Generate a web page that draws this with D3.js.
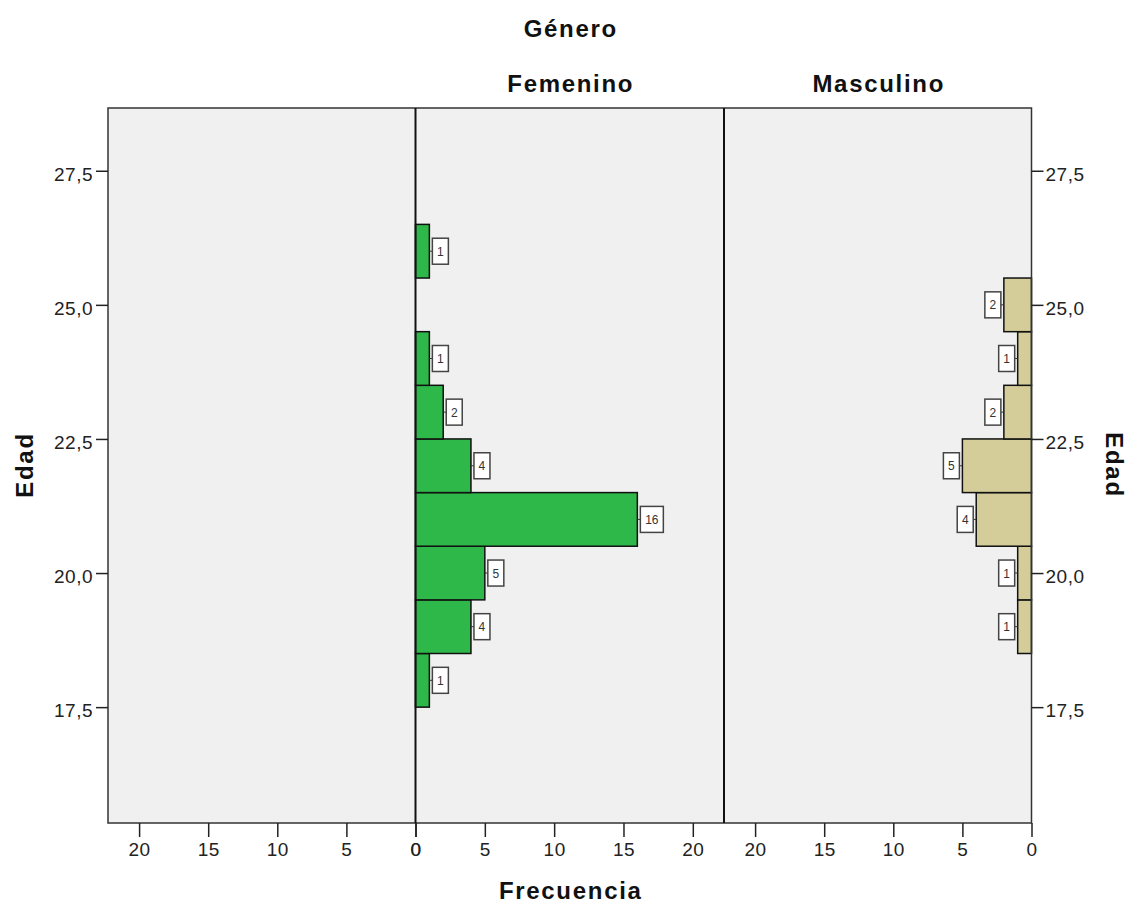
<!DOCTYPE html>
<html>
<head>
<meta charset="utf-8">
<script src="https://cdn.jsdelivr.net/npm/d3@7"></script>
<style>
  body { margin: 0; background: #fff; }
  svg { font-family: "Liberation Sans", Arial, sans-serif; }
</style>
</head>
<body>
<svg width="1132" height="906"></svg>
<script>
// ---- data ----
const groups = ["Femenino", "Masculino"];
const ageBins = [18, 19, 20, 21, 22, 23, 24, 25, 26];
const femenino = [1, 4, 5, 16, 4, 2, 1, 0, 1];
const masculino = [0, 1, 1, 4, 5, 2, 1, 2, 0];
const freqTicks = [0, 5, 10, 15, 20];
const ageTicks = [17.5, 20.0, 22.5, 25.0, 27.5];

const svg = d3.select("svg");

const plotTop = 108, plotBottom = 823;
const edges = [108, 415.5, 724, 1031.5];
const maxF = 22.25;

const y = d3.scaleLinear().domain([15.34, 28.67]).range([plotBottom, plotTop]);

// one x scale per panel
const xLeft = d3.scaleLinear().domain([maxF, 0]).range([edges[0], edges[1]]);
const xMid = d3.scaleLinear().domain([0, maxF]).range([edges[1], edges[2]]);
const xRight = d3.scaleLinear().domain([maxF, 0]).range([edges[2], edges[3]]);

// background
svg.append("rect")
  .attr("x", edges[0]).attr("y", plotTop)
  .attr("width", edges[3] - edges[0]).attr("height", plotBottom - plotTop)
  .attr("fill", "#f0f0f0");

/* -----------------------------
   Bars
----------------------------- */
const binH = y(0) - y(1);

const femData = ageBins.map((a, i) => ({ age: a, n: femenino[i] })).filter(d => d.n > 0);
const masData = ageBins.map((a, i) => ({ age: a, n: masculino[i] })).filter(d => d.n > 0);

svg.selectAll(".fem")
  .data(femData)
  .enter()
  .append("rect")
  .attr("x", xMid(0))
  .attr("y", d => y(d.age + 0.5))
  .attr("width", d => xMid(d.n) - xMid(0))
  .attr("height", binH)
  .attr("fill", "#2fb84a")
  .attr("stroke", "#111")
  .attr("stroke-width", 1.5);

svg.selectAll(".mas")
  .data(masData)
  .enter()
  .append("rect")
  .attr("x", d => xRight(d.n))
  .attr("y", d => y(d.age + 0.5))
  .attr("width", d => xRight(0) - xRight(d.n))
  .attr("height", binH)
  .attr("fill", "#d4cd9a")
  .attr("stroke", "#111")
  .attr("stroke-width", 1.5);

/* -----------------------------
   Value labels
----------------------------- */
function addLabels(data, xs, side) {
  data.forEach(d => {
    const txt = String(d.n);
    const w = txt.length > 1 ? 23 : 16;
    const h = 26;
    const xe = xs(d.n);
    const cy = y(d.age);
    const bx = side > 0 ? xe + 3 : xe - 3 - w;
    svg.append("line")
      .attr("x1", xe).attr("x2", side > 0 ? bx : bx + w)
      .attr("y1", cy).attr("y2", cy)
      .attr("stroke", "#333").attr("stroke-width", 1);
    svg.append("rect")
      .attr("x", bx).attr("y", cy - h / 2)
      .attr("width", w).attr("height", h)
      .attr("fill", "#fff")
      .attr("stroke", "#444")
      .attr("stroke-width", 1.5);
    svg.append("text")
      .attr("x", bx + w / 2).attr("y", cy + 4.5)
      .attr("text-anchor", "middle")
      .attr("font-size", 12)
      .attr("fill", "#333")
      .text(txt);
  });
}
addLabels(femData, xMid, 1);
addLabels(masData, xRight, -1);

/* -----------------------------
   Frame and dividers
----------------------------- */
svg.append("rect")
  .attr("x", edges[0]).attr("y", plotTop)
  .attr("width", edges[3] - edges[0]).attr("height", plotBottom - plotTop)
  .attr("fill", "none")
  .attr("stroke", "#333")
  .attr("stroke-width", 1.5);

[edges[1], edges[2]].forEach(xv => {
  svg.append("line")
    .attr("x1", xv).attr("x2", xv)
    .attr("y1", plotTop).attr("y2", plotBottom)
    .attr("stroke", "#111")
    .attr("stroke-width", 2);
});

/* -----------------------------
   Axes
----------------------------- */
function styleAxis(g) {
  g.select(".domain").remove();
  g.selectAll(".tick line").attr("stroke", "#222").attr("stroke-width", 1.5);
  g.selectAll(".tick text").attr("font-size", 19).attr("fill", "#222")
    .attr("letter-spacing", 0.5)
    .attr("font-family", "'Liberation Sans', Arial, sans-serif");
}

const fmt = d3.format(".1f");
const comma = d => fmt(d).replace(".", ",");

svg.append("g")
  .attr("transform", `translate(${edges[0]},0)`)
  .call(d3.axisLeft(y).tickValues(ageTicks).tickFormat(comma).tickSize(12).tickPadding(3))
  .call(styleAxis)
  .call(g => g.selectAll(".tick text").attr("dy", "0.5em"));

svg.append("g")
  .attr("transform", `translate(${edges[3]},0)`)
  .call(d3.axisRight(y).tickValues(ageTicks).tickFormat(comma).tickSize(12).tickPadding(2))
  .call(styleAxis)
  .call(g => g.selectAll(".tick text").attr("dy", "0.5em"));

[xLeft, xMid, xRight].forEach(xs => {
  svg.append("g")
    .attr("transform", `translate(0,${plotBottom})`)
    .call(d3.axisBottom(xs).tickValues(freqTicks).tickSize(14).tickPadding(6))
    .call(styleAxis);
});

/* -----------------------------
   Titles
----------------------------- */
const bold = (x, yy, t) => svg.append("text")
  .attr("x", x).attr("y", yy)
  .attr("text-anchor", "middle")
  .attr("font-size", 24)
  .attr("font-weight", "bold")
  .attr("letter-spacing", 1.7)
  .attr("fill", "#111")
  .text(t);

bold((edges[1] + edges[2]) / 2 + 1, 37, "Género");
bold((edges[1] + edges[2]) / 2 + 1, 92, groups[0]);
bold((edges[2] + edges[3]) / 2 + 1, 92, groups[1]);
bold((edges[1] + edges[2]) / 2 + 1, 899, "Frecuencia");

bold(0, 0, "Edad").attr("transform", "translate(33,465) rotate(-90)");
bold(0, 0, "Edad").attr("transform", "translate(1106,465) rotate(90)");
</script>
</body>
</html>
